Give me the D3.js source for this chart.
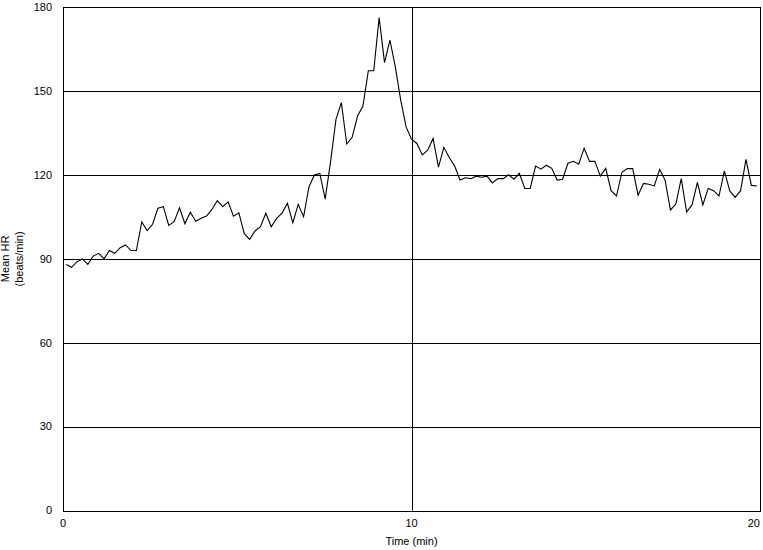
<!DOCTYPE html>
<html>
<head>
<meta charset="utf-8">
<script src="https://cdn.jsdelivr.net/npm/d3@7/dist/d3.min.js"></script>
<style>
  html, body { margin: 0; padding: 0; background: #fff; }
  svg { display: block; font-family: Arial, "Liberation Sans", sans-serif; }
</style>
</head>
<body>
<svg id="chart" width="763" height="550"></svg>
<script>
// ---- data (the earliest samples are hidden in the reference and estimated) ----
const sampleIndex = d3.range(1, 130);
const hrValues = [
  88, 87, 89, 90, 88, 91, 92, 90, 93, 92, 94, 95, 93,
  93, 103.2, 100.1, 102.4, 108.1, 108.7, 102.0, 103.3, 108.3, 102.6,
  106.7, 103.5, 104.5, 105.3, 107.7, 110.8, 108.7, 110.4, 105.3, 106.5,
  99, 97, 100, 101.5, 106.3, 101.5, 104.5, 106.4, 109.9, 102.9,
  109.5, 105.1, 115.8, 120.0, 120.6, 111.4, 124.8, 139.9, 145.9, 131.1,
  133.5, 141.1, 144.7, 157.3, 157.3, 176.3, 160.2, 168.3, 158.7, 146.8,
  137.2, 132.8, 131.3, 127.2, 128.9, 133.1, 122.8, 129.9, 126.3, 123.2,
  118.2, 119.0, 118.7, 119.6, 119.2, 119.6, 117.2, 118.7, 118.7, 120.1,
  118.5, 120.6, 115.2, 115.2, 123.2, 122.1, 123.5, 122.4, 118.2, 118.5,
  124.2, 124.9, 123.9, 129.6, 124.9, 124.9, 119.6, 122.4, 114.4, 112.5,
  121.0, 122.3, 122.3, 112.8, 117.0, 116.7, 116.1, 122.0, 118.2, 107.5,
  109.6, 118.7, 106.8, 109.3, 117.4, 109.3, 115.2, 114.4, 112.5, 121.5,
  114.3, 112.0, 114.4, 125.6, 116.3, 116.1
];
const xDomain = [0.4, 129.6];
const yTicks = [0, 30, 60, 90, 120, 150, 180];
const xTicks = [0.4, 65, 129.6];
const xTickLabels = ["0", "10", "20"];
const yTitleLines = ["Mean HR", "(beats/min)"];
const xTitle = "Time (min)";

// ---- layout ----
const W = 763, H = 550;
const plot = { left: 63, right: 760, top: 7.3, bottom: 510.5 };

const svg = d3.select("#chart");
svg.append("rect").attr("width", W).attr("height", H).attr("fill", "#fff");

const x = d3.scaleLinear().domain(xDomain).range([plot.left, plot.right]);
const y = d3.scaleLinear().domain([0, 180]).range([plot.bottom, plot.top]);

const snap = v => Math.round(v) + 0.5;

// horizontal gridlines
svg.append("g").selectAll("line").data(yTicks).join("line")
  .attr("x1", plot.left).attr("x2", plot.right)
  .attr("y1", d => snap(y(d))).attr("y2", d => snap(y(d)))
  .attr("stroke", "#000").attr("stroke-width", 1);

// vertical gridlines
svg.append("g").selectAll("line").data(xTicks).join("line")
  .attr("y1", plot.top).attr("y2", plot.bottom)
  .attr("x1", d => snap(x(d))).attr("x2", d => snap(x(d)))
  .attr("stroke", "#000").attr("stroke-width", 1);

// y-axis tick labels
svg.append("g").selectAll("text").data(yTicks).join("text")
  .attr("x", 52).attr("y", d => y(d))
  .attr("dy", "0.35em")
  .attr("text-anchor", "end")
  .attr("font-size", 11).attr("fill", "#000")
  .text(d => d);

// x-axis tick labels
svg.append("g").selectAll("text").data(xTicks).join("text")
  .attr("x", d => x(d))
  .attr("y", plot.bottom + 16)
  .attr("text-anchor", (d, i) => i === xTicks.length - 1 ? "end" : "middle")
  .attr("font-size", 11).attr("fill", "#000")
  .text((d, i) => xTickLabels[i]);

// x title
svg.append("text")
  .attr("x", (plot.left + plot.right) / 2)
  .attr("y", plot.bottom + 34)
  .attr("text-anchor", "middle")
  .attr("font-size", 11).attr("fill", "#000")
  .text(xTitle);

// y title (two lines, rotated)
const yt = svg.append("text")
  .attr("transform", `translate(9, ${(plot.top + plot.bottom) / 2}) rotate(-90)`)
  .attr("text-anchor", "middle")
  .attr("font-size", 11).attr("fill", "#000");
yTitleLines.forEach((t, i) => {
  yt.append("tspan").attr("x", 0).attr("dy", i === 0 ? 0 : 14).text(t);
});

// data line
const line = d3.line()
  .x((d, i) => x(sampleIndex[i]))
  .y(d => y(d));

svg.append("path")
  .datum(hrValues)
  .attr("d", line)
  .attr("fill", "none")
  .attr("stroke", "#000")
  .attr("stroke-width", 1.1)
  .attr("stroke-linejoin", "miter");

// plot border
svg.append("rect")
  .attr("x", snap(plot.left)).attr("y", snap(plot.top))
  .attr("width", Math.round(plot.right) - Math.round(plot.left))
  .attr("height", Math.round(plot.bottom) - Math.round(plot.top))
  .attr("fill", "none").attr("stroke", "#000").attr("stroke-width", 1);
</script>
</body>
</html>
